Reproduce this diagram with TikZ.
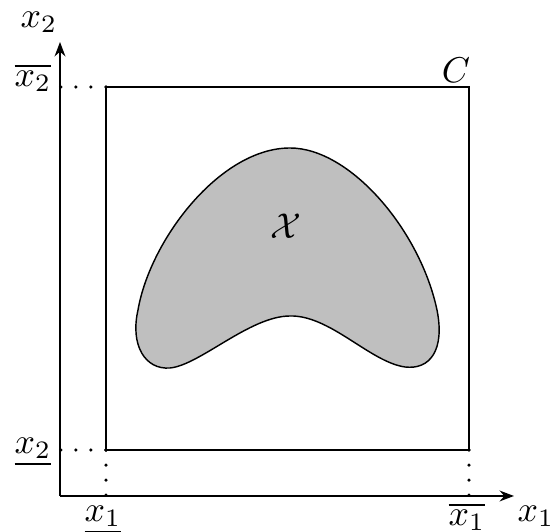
\documentclass[tikz,border=0pt]{standalone}
\usetikzlibrary{arrows.meta}
\begin{document}
\begin{tikzpicture}[x=0.0098cm,y=-0.0098cm,
  axis/.style={line width=0.6pt,-{Stealth[length=4pt,width=3pt]}},
  boxline/.style={line width=0.6pt},
  dotline/.style={line width=1pt,line cap=round,dash pattern=on 0pt off 4.2pt},
  lbl/.style={inner sep=0pt}]
\useasboundingbox (0,0) rectangle (551,532);
\coordinate (O) at (60,496);
\coordinate (ytip) at (60,42);
\coordinate (xtip) at (514,496);
\coordinate (ll) at (106,450);
\coordinate (ur) at (469,87);
\coordinate (ul) at (106,87);
\coordinate (lr) at (469,450);
\coordinate (yu) at (60,87);
\coordinate (yl) at (60,450);
\coordinate (xl) at (106,496);
\coordinate (xr) at (469,496);
\draw[axis] (O) -- (ytip);
\draw[axis] (O) -- (xtip);
\draw[boxline] (ll) rectangle (ur);
\draw[dotline] (ul) -- (yu);
\draw[dotline] (ll) -- (yl);
\draw[dotline] (ll) -- (xl);
\draw[dotline] (lr) -- (xr);
\draw[line width=0.4pt,fill=black!25]
  (290,148) .. controls (350,148) and (420,230) .. (437,310)
  .. controls (445,350) and (430,370) .. (405,367)
  .. controls (370,362) and (330,315) .. (290,316)
  .. controls (250,316) and (200,365) .. (170,368)
  .. controls (145,370) and (130,345) .. (138,310)
  .. controls (150,240) and (220,148) .. (290,148) -- cycle;
\node[lbl] (X) at (286,226) {$\mathcal{X}$};
\node[lbl] (C) at (456,70) {$C$};
\node[lbl] (x2) at (39,22) {$x_2$};
\node[lbl] (x1) at (536,516) {$x_1$};
\node[lbl] (x2up) at (33,78) {$\overline{x_2}$};
\node[lbl] (x2lo) at (33,452) {$\underline{x_2}$};
\node[lbl] (x1lo) at (103,520) {$\underline{x_1}$};
\node[lbl] (x1up) at (467,517) {$\overline{x_1}$};
\end{tikzpicture}
\end{document}
